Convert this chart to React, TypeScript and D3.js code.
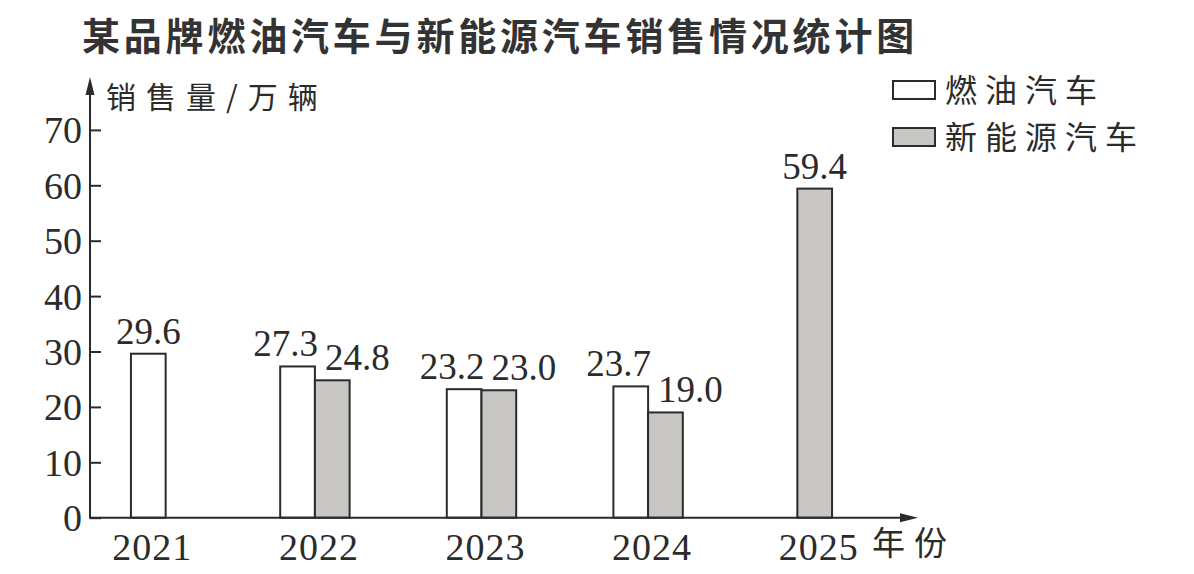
import * as d3 from 'd3';
import React, { useEffect, useRef } from 'react';

const years = ['2021', '2022', '2023', '2024', '2025'];
const fuelCars: (number | null)[] = [29.6, 27.3, 23.2, 23.7, null];
const newEnergyCars: (number | null)[] = [null, 24.8, 23.0, 19.0, 59.4];
const yTicks = [0, 10, 20, 30, 40, 50, 60, 70];
const seriesNames = ['燃油汽车', '新能源汽车'];

const ink = '#2b2b2b';
const grayFill = '#c9c7c4';
const cjk = '"Noto Sans CJK SC", "Noto Sans", sans-serif';
const serif = '"Liberation Serif", "DejaVu Serif", serif';

const App: React.FC = () => {
  const svgRef = useRef<SVGSVGElement | null>(null);

  useEffect(() => {
    if (!svgRef.current) return;
    const svg = d3.select(svgRef.current);
    svg.selectAll('*').remove();

    const axisX = 90;
    const x = d3.scaleBand<string>().domain(years).range([65, 898]);
    const y = d3.scaleLinear().domain([0, 70]).range([517.7, 129.9]);
    const barW = 34.7;
    const center = (yr: string) => x(yr)! + x.bandwidth() / 2;
    const paired = (yr: string) => {
      const i = years.indexOf(yr);
      return fuelCars[i] != null && newEnergyCars[i] != null;
    };

    // title
    svg.append('text')
      .attr('x', 82).attr('y', 50)
      .attr('font-family', cjk).attr('font-weight', 700)
      .attr('font-size', 38).attr('letter-spacing', 3.8)
      .attr('fill', '#333')
      .text('某品牌燃油汽车与新能源汽车销售情况统计图');

    // bars
    const bars: { yr: string; v: number; kind: number; x0: number }[] = [];
    years.forEach((yr, i) => {
      const a = fuelCars[i];
      const b = newEnergyCars[i];
      const c = center(yr);
      if (a != null && b != null) {
        bars.push({ yr, v: a, kind: 0, x0: c - barW });
        bars.push({ yr, v: b, kind: 1, x0: c });
      } else if (a != null) {
        bars.push({ yr, v: a, kind: 0, x0: c - barW / 2 });
      } else if (b != null) {
        bars.push({ yr, v: b, kind: 1, x0: c - barW / 2 });
      }
    });

    svg.append('g')
      .selectAll('rect')
      .data(bars)
      .enter()
      .append('rect')
      .attr('x', (d) => d.x0)
      .attr('y', (d) => y(d.v))
      .attr('width', barW)
      .attr('height', (d) => y(0) - y(d.v))
      .attr('fill', (d) => (d.kind === 0 ? '#fff' : grayFill))
      .attr('stroke', ink)
      .attr('stroke-width', 2);

    // value labels
    svg.append('g')
      .selectAll('text')
      .data(bars)
      .enter()
      .append('text')
      .attr('font-family', serif)
      .attr('font-size', 37)
      .attr('fill', ink)
      .attr('y', (d) => y(d.v) - 10)
      .attr('x', (d) => {
        if (!paired(d.yr)) return d.x0 + barW / 2;
        return d.kind === 0 ? d.x0 + barW + 3 : d.x0 + 10;
      })
      .attr('text-anchor', (d) => {
        if (!paired(d.yr)) return 'middle';
        return d.kind === 0 ? 'end' : 'start';
      })
      .text((d) => d.v.toFixed(1));

    // y axis
    const yAxis = svg.append('g')
      .attr('transform', `translate(${axisX},0)`)
      .call(d3.axisLeft(y).tickValues(yTicks).tickSize(-11).tickPadding(8).tickFormat(d3.format('d')));
    yAxis.select('.domain').remove();
    yAxis.selectAll('line').attr('stroke', ink).attr('stroke-width', 2);
    yAxis.selectAll('text')
      .attr('font-family', serif).attr('font-size', 38).attr('fill', ink)
      .attr('dy', 13);

    svg.append('line')
      .attr('x1', axisX).attr('x2', axisX)
      .attr('y1', y(0) + 1).attr('y2', 90)
      .attr('stroke', ink).attr('stroke-width', 2);
    svg.append('path')
      .attr('d', `M${axisX},77 L${axisX - 4.5},95 L${axisX + 4.5},95 Z`)
      .attr('fill', ink);

    // x axis
    svg.append('line')
      .attr('x1', axisX).attr('x2', 905)
      .attr('y1', y(0)).attr('y2', y(0))
      .attr('stroke', ink).attr('stroke-width', 2);
    svg.append('path')
      .attr('d', `M918,${y(0)} L900,${y(0) - 4.5} L900,${y(0) + 4.5} Z`)
      .attr('fill', ink);

    svg.append('g')
      .selectAll('text')
      .data(years)
      .enter()
      .append('text')
      .attr('x', (d) => center(d) + 4)
      .attr('y', 560)
      .attr('text-anchor', 'middle')
      .attr('font-family', serif)
      .attr('font-size', 38)
      .attr('letter-spacing', 1)
      .attr('fill', ink)
      .text((d) => d);

    // axis titles
    svg.append('text')
      .attr('x', 106).attr('y', 108)
      .attr('font-family', cjk).attr('font-size', 30).attr('letter-spacing', 10)
      .attr('fill', ink)
      .text('销售量/万辆');
    svg.append('text')
      .attr('x', 872).attr('y', 555)
      .attr('font-family', cjk).attr('font-size', 33).attr('letter-spacing', 9)
      .attr('fill', ink)
      .text('年份');

    // legend
    const legend = svg.append('g')
      .selectAll('g')
      .data(seriesNames)
      .enter()
      .append('g')
      .attr('transform', (_, i) => `translate(893,${81 + i * 47})`);
    legend.append('rect')
      .attr('width', 42).attr('height', 18)
      .attr('fill', (_, i) => (i === 0 ? '#fff' : grayFill))
      .attr('stroke', ink).attr('stroke-width', 2);
    legend.append('text')
      .attr('x', 52).attr('y', 21)
      .attr('font-family', cjk).attr('font-size', 32).attr('letter-spacing', 8)
      .attr('fill', ink)
      .text((d) => d);
  }, []);

  return (
    <svg
      ref={svgRef}
      width={1194}
      height={574}
      style={{ position: 'absolute', left: 0, top: 0, background: '#fff' }}
    />
  );
};

export default App;
